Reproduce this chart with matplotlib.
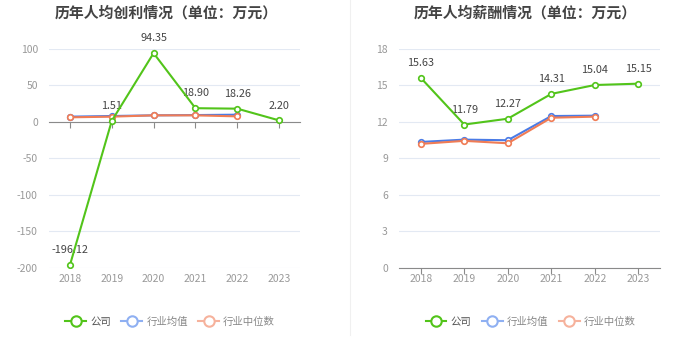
import numpy as np
import matplotlib
matplotlib.use('Agg')
import matplotlib.pyplot as plt
from matplotlib.lines import Line2D

plt.rcParams['font.family'] = ['Noto Sans CJK SC', 'DejaVu Sans']
plt.rcParams['axes.unicode_minus'] = False

# -------- данные --------
years = ['2018', '2019', '2020', '2021', '2022', '2023']

profit_company = [-196.12, 1.51, 94.35, 18.90, 18.26, 2.20]
profit_avg = [7.3, 8.2, 9.1, 9.5, 10.0]
profit_median = [6.4, 7.3, 9.1, 9.1, 7.7]

salary_company = [15.63, 11.79, 12.27, 14.31, 15.04, 15.15]
salary_avg = [10.36, 10.55, 10.5, 12.49, 12.52]
salary_median = [10.2, 10.45, 10.25, 12.35, 12.44]

titles = ['历年人均创利情况（单位：万元）', '历年人均薪酬情况（单位：万元）']
legend_names = ['公司', '行业均值', '行业中位数']

green = '#52c41a'
blue = '#4a7be6'
orange = '#f07c55'
blue_light = '#8fb0f2'
orange_light = '#f6b29c'

fig = plt.figure(figsize=(7, 3.6), dpi=100)

panels = [
    dict(rect=[0.07, 0.2556, 0.3586, 0.6083], comp=profit_company, avg=profit_avg,
         med=profit_median, ylim=(-200, 100), yticks=[-200, -150, -100, -50, 0, 50, 100],
         title=titles[0], title_x=0.237, legend_x=0.243),
    dict(rect=[0.57, 0.2556, 0.373, 0.6083], comp=salary_company, avg=salary_avg,
         med=salary_median, ylim=(0, 18), yticks=[0, 3, 6, 9, 12, 15, 18],
         title=titles[1], title_x=0.75, legend_x=0.758),
]

for p in panels:
    ax = fig.add_axes(p['rect'])
    x = np.arange(len(years))
    ax.plot(x[:len(p['avg'])], p['avg'], color=blue, lw=1.5, marker='o', ms=4,
            mfc='white', mec=blue, mew=1.2, zorder=3)
    ax.plot(x[:len(p['med'])], p['med'], color=orange, lw=1.5, marker='o', ms=4,
            mfc='white', mec=orange, mew=1.2, zorder=3)
    ax.plot(x, p['comp'], color=green, lw=1.5, marker='o', ms=4,
            mfc='white', mec=green, mew=1.2, zorder=4)
    for xi, v in zip(x, p['comp']):
        ax.annotate(f'{v:.2f}', (xi, v), xytext=(0, 7), textcoords='offset points',
                    ha='center', va='bottom', fontsize=7.8, color='#444444')

    ax.set_xlim(-0.5, len(years) - 0.5)
    ax.set_ylim(*p['ylim'])
    ax.set_yticks(p['yticks'])
    ax.yaxis.grid(True, color='#e3e9f3', lw=0.8)
    ax.set_axisbelow(True)
    for s in ['top', 'right', 'left']:
        ax.spines[s].set_visible(False)
    ax.spines['bottom'].set_position(('data', 0))
    ax.spines['bottom'].set_color('#8a8a8a')
    ax.set_xticks(x)
    ax.tick_params(axis='x', labelbottom=False, length=4, color='#8a8a8a')
    ax.tick_params(axis='y', length=0, labelsize=7.5, labelcolor='#999999', pad=8)

    sec = ax.secondary_xaxis('bottom')
    sec.set_xticks(x, years)
    sec.spines['bottom'].set_visible(False)
    sec.tick_params(length=0, labelsize=7.5, labelcolor='#999999', pad=4)

    fig.text(p['title_x'], 0.965, p['title'], ha='center',
             va='center', fontsize=10.7, fontweight='bold', color='#444444')

    handles = [
        Line2D([], [], color=green, lw=1.5, marker='o', ms=7.5, mfc='white', mec=green, mew=1.5),
        Line2D([], [], color=blue_light, lw=1.5, marker='o', ms=7.5, mfc='white', mec=blue_light, mew=1.5),
        Line2D([], [], color=orange_light, lw=1.5, marker='o', ms=7.5, mfc='white', mec=orange_light, mew=1.5),
    ]
    leg = fig.legend(handles, legend_names, loc='center', bbox_to_anchor=(p['legend_x'], 0.106),
                     ncol=3, frameon=False, fontsize=7.5, handlelength=2.0,
                     handletextpad=0.4, columnspacing=1.0)
    for t, c in zip(leg.get_texts(), ['#555555', '#888888', '#888888']):
        t.set_color(c)

# тонкий разделитель между графиками
fig.add_artist(Line2D([0.5, 0.5], [0.07, 1.0], color='#f0f0f0', lw=0.8))

fig.savefig('out.png', dpi=100)
